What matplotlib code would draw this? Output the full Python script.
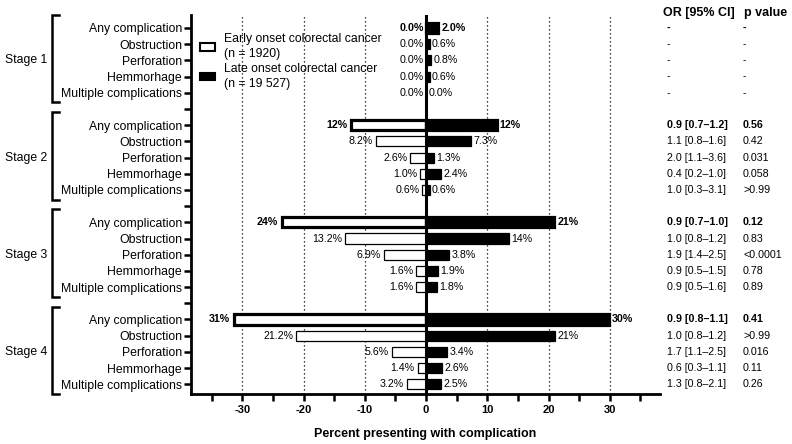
import matplotlib
matplotlib.use('Agg')
import matplotlib.pyplot as plt
from matplotlib.patches import Patch
from matplotlib.transforms import blended_transform_factory
import numpy as np

plt.rcParams['font.family'] = ['Liberation Sans', 'DejaVu Sans']

# ---------------- data ----------------
stages = ["Stage 1", "Stage 2", "Stage 3", "Stage 4"]
categories = ["Any complication", "Obstruction", "Perforation", "Hemmorhage",
              "Multiple complications"]

early_pct = [[0.0, 0.0, 0.0, 0.0, 0.0],
             [12.3, 8.2, 2.6, 1.0, 0.6],
             [23.6, 13.2, 6.9, 1.6, 1.6],
             [31.4, 21.2, 5.6, 1.4, 3.2]]
early_labels = [["0.0%", "0.0%", "0.0%", "0.0%", "0.0%"],
                ["12%", "8.2%", "2.6%", "1.0%", "0.6%"],
                ["24%", "13.2%", "6.9%", "1.6%", "1.6%"],
                ["31%", "21.2%", "5.6%", "1.4%", "3.2%"]]

late_pct = [[2.0, 0.6, 0.8, 0.6, 0.0],
            [11.5, 7.3, 1.3, 2.4, 0.6],
            [20.9, 13.6, 3.8, 1.9, 1.8],
            [29.8, 21.1, 3.4, 2.6, 2.5]]
late_labels = [["2.0%", "0.6%", "0.8%", "0.6%", "0.0%"],
               ["12%", "7.3%", "1.3%", "2.4%", "0.6%"],
               ["21%", "14%", "3.8%", "1.9%", "1.8%"],
               ["30%", "21%", "3.4%", "2.6%", "2.5%"]]

or_ci = [["-", "-", "-", "-", "-"],
         ["0.9 [0.7\u20131.2]", "1.1 [0.8\u20131.6]", "2.0 [1.1\u20133.6]",
          "0.4 [0.2\u20131.0]", "1.0 [0.3\u20133.1]"],
         ["0.9 [0.7\u20131.0]", "1.0 [0.8\u20131.2]", "1.9 [1.4\u20132.5]",
          "0.9 [0.5\u20131.5]", "0.9 [0.5\u20131.6]"],
         ["0.9 [0.8\u20131.1]", "1.0 [0.8\u20131.2]", "1.7 [1.1\u20132.5]",
          "0.6 [0.3\u20131.1]", "1.3 [0.8\u20132.1]"]]
p_values = [["-", "-", "-", "-", "-"],
            ["0.56", "0.42", "0.031", "0.058", ">0.99"],
            ["0.12", "0.83", "<0.0001", "0.78", "0.89"],
            ["0.41", ">0.99", "0.016", "0.11", "0.26"]]

legend_labels = ["Early onset colorectal cancer\n(n = 1920)",
                 "Late onset colorectal cancer\n(n = 19 527)"]
xlabel = "Percent presenting with complication"
xtick_vals = list(range(-35, 36, 5))

# ---------------- figure ----------------
W, H = 792, 444
fig = plt.figure(figsize=(W / 100, H / 100), dpi=100)
ax = fig.add_axes([191 / W, 1 - 394 / H, (660 - 191) / W, (394 - 15) / H])

ax.set_xlim(-38.4, 38.2)
ax.set_ylim(22.6, -0.8)

bar_h = 0.62
fs_val = 7.7
trans = blended_transform_factory(fig.transFigure, ax.transData)

ytick_pos, ytick_lab = [], []
for s, stage in enumerate(stages):
    base = s * 6
    for i, cat in enumerate(categories):
        y = base + i
        ytick_pos.append(y)
        ytick_lab.append(cat)
        lw = 2.3 if i == 0 else 0.9
        wt = 'bold' if i == 0 else 'normal'
        e = early_pct[s][i]
        l = late_pct[s][i]
        if e > 0:
            ax.barh(y, -e, height=bar_h, color='white', edgecolor='black',
                    linewidth=lw, zorder=3)
        if l > 0:
            ax.barh(y, l, height=bar_h, color='black', edgecolor='black',
                    linewidth=lw, zorder=3)
        off_e = (lw / 2 + 1.5) if e > 0 else 1.5
        off_l = (lw / 2 + 1.2) if l > 0 else 1.5
        ax.annotate(early_labels[s][i], xy=(-e, y), xytext=(-off_e, 0),
                    textcoords='offset points', ha='right', va='center',
                    fontsize=fs_val, fontweight=wt, zorder=5)
        ax.annotate(late_labels[s][i], xy=(l, y), xytext=(off_l, 0),
                    textcoords='offset points', ha='left', va='center',
                    fontsize=fs_val, fontweight=wt, zorder=5)
        # table
        ax.text(667 / W, y, or_ci[s][i], transform=trans, ha='left',
                va='center', fontsize=fs_val, fontweight=wt)
        ax.text(743 / W, y, p_values[s][i], transform=trans, ha='left',
                va='center', fontsize=fs_val, fontweight=wt)
    if s < 3:
        ytick_pos.append(base + 5)
        ytick_lab.append("")
    # bracket
    top, bot = base - 0.8, base + 4.6
    ax.plot([59 / W, 52 / W, 52 / W, 59 / W], [top, top, bot, bot],
            transform=trans, clip_on=False, color='black', lw=1.8,
            solid_joinstyle='miter')
    ax.text(47 / W, base + 2, stage, transform=trans, ha='right',
            va='center', fontsize=8.8)

# table headers
ax.text(663 / W, -0.92, "OR [95% CI]", transform=trans, ha='left',
        va='center', fontsize=9, fontweight='bold')
ax.text(744 / W, -0.92, "p value", transform=trans, ha='left',
        va='center', fontsize=9, fontweight='bold')

# grid lines
for v in [-30, -20, -10, 10, 20, 30]:
    ax.axvline(v, color='black', lw=0.9, ls=(0, (1, 2.2)), zorder=1)
ax.axvline(0, color='black', lw=2.2, zorder=4)

# axes styling
for side in ['top', 'right']:
    ax.spines[side].set_visible(False)
for side in ['left', 'bottom']:
    ax.spines[side].set_linewidth(2)

ax.set_yticks(ytick_pos)
ax.set_yticklabels(ytick_lab, fontsize=8.8)
ax.tick_params(axis='y', length=5, width=1.8, pad=1.5)

ax.set_xticks(xtick_vals)
ax.set_xticklabels([str(v) if v % 10 == 0 else "" for v in xtick_vals],
                   fontsize=8, fontweight='bold')
ax.tick_params(axis='x', length=5, width=1.8, pad=3)
ax.set_xlabel(xlabel, fontsize=9, fontweight='bold', labelpad=9.5)

handles = [Patch(facecolor='white', edgecolor='black', linewidth=1.5),
           Patch(facecolor='black', edgecolor='black', linewidth=1.5)]
leg = ax.legend(handles, legend_labels, loc='upper left',
                bbox_to_anchor=(0.019, 0.952), frameon=False, fontsize=8.8,
                handlelength=1.2, handleheight=0.6, handletextpad=0.8,
                labelspacing=0.2, borderpad=0, borderaxespad=0)
for t in leg.get_texts():
    t.set_linespacing(1.35)

fig.savefig('out.png', dpi=100)
